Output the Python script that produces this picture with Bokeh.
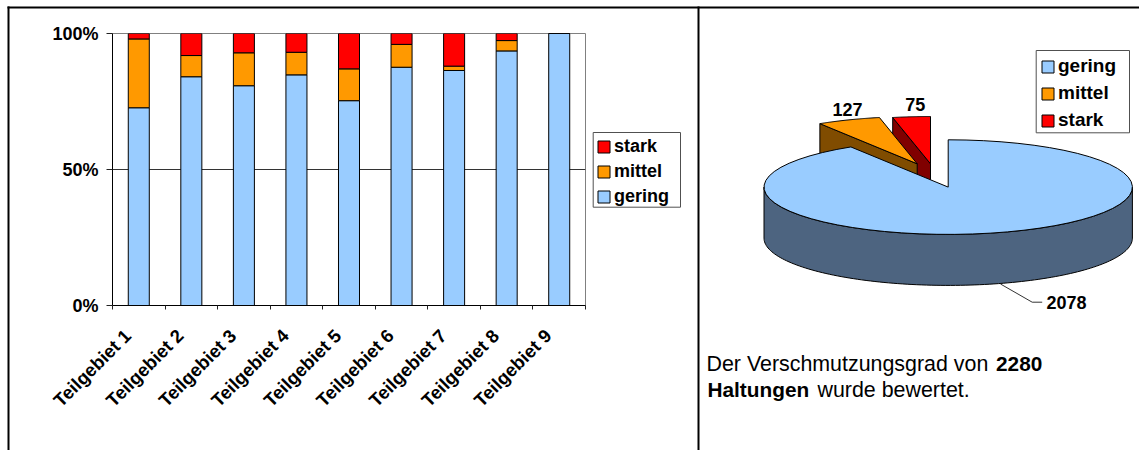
import numpy as np
from bokeh.plotting import figure
from bokeh.models import (Range1d, FixedTicker, LinearAxis, Legend, LegendItem, Label, ColumnDataSource, Grid)
from bokeh.embed import file_html
from bokeh.resources import INLINE

categories = ["Teilgebiet 1","Teilgebiet 2","Teilgebiet 3","Teilgebiet 4","Teilgebiet 5","Teilgebiet 6","Teilgebiet 7","Teilgebiet 8","Teilgebiet 9"]
gering = [72.7, 84.1, 80.8, 84.8, 75.3, 87.6, 86.4, 93.6, 100.0]
mittel = [25.3, 7.8, 12.1, 8.3, 11.7, 8.4, 1.6, 3.8, 0.0]
stark = [2.0, 8.1, 7.1, 6.9, 13.0, 4.0, 12.0, 2.6, 0.0]
y_ticks = [0, 50, 100]
y_labels = ["0%", "50%", "100%"]
pie_names = ["gering", "mittel", "stark"]
pie_values = [2078, 127, 75]

FONT = "Liberation Sans"
BLUE, ORANGE, RED = "#99CCFF", "#FF9900", "#FF0000"
D_BLUE, D_ORANGE, D_RED = "#4D6480", "#804C00", "#800000"
TXT = "#000000"
FS = "18px"

# ---------- full-page layer: frame lines, 3D pie, texts (1 data unit = 1 page pixel)
q = figure(width=1139, height=450, x_range=Range1d(0, 1139), y_range=Range1d(450, 0),
           output_backend="svg", toolbar_location=None, x_axis_type=None, y_axis_type=None,
           min_border=0, outline_line_color=None, background_fill_color="white", border_fill_color="white",
           styles={"position": "absolute", "left": "0px", "top": "0px"})
q.xgrid.visible = False
q.ygrid.visible = False
q.quad(left=[7, 697, 7], right=[9, 699, 1139], top=[6, 6, 6], bottom=[450, 450, 8], fill_color="black", line_color=None)

CX, CY, RX, RY, DEPTH = 947.7, 186.6, 184.2, 47.3, 51
total = sum(pie_values)
ends = np.cumsum(pie_values) / total * 2 * np.pi
starts = np.concatenate([[0], ends[:-1]])

def pt(a, ox=0, oy=0):
    return CX + ox + RX * np.sin(a), CY + oy - RY * np.cos(a)

def wedge(a0, a1, ox=0, oy=0):
    a = np.linspace(a0, a1, 60)
    x, y = pt(a, ox, oy)
    return [CX + ox, *x], [CY + oy, *y]

OFF = {"mittel": (-31.0, -23.3), "stark": (-17.7, -23.3)}
outline = dict(line_color="#000000", line_width=1)

def slice3d(i, off, top, dark):
    xc, yc = pt(starts[i], *off)
    ax, ay = CX + off[0], CY + off[1]
    q.patch([xc, ax, ax, xc], [yc, ay, ay + DEPTH, yc + DEPTH], fill_color=dark, **outline)
    wx, wy = wedge(starts[i], ends[i], *off)
    return q.patch(wx, wy, fill_color=top, **outline)

r_stark = slice3d(2, OFF["stark"], RED, D_RED)
r_mittel = slice3d(1, OFF["mittel"], ORANGE, D_ORANGE)
a = np.linspace(np.pi / 2, 3 * np.pi / 2, 120)
sx, sy = pt(a)
q.patch([*sx, *sx[::-1]], [*(sy + DEPTH), *sy[::-1]], fill_color=D_BLUE, **outline)
wx, wy = wedge(starts[0], ends[0])
r_gering = q.patch(wx, wy, fill_color=BLUE, **outline)

q.line([1000, 1031.7, 1041.7], [283.5, 301.7, 301.7], line_color="#333333", line_width=1)

lab = dict(text_font=FONT, text_font_size=FS, text_color=TXT, text_baseline="middle")
q.add_layout(Label(x=847, y=109, text=str(pie_values[1]), text_align="center", text_font_style="bold", **lab))
q.add_layout(Label(x=914.7, y=104, text=str(pie_values[2]), text_align="center", text_font_style="bold", **lab))
q.add_layout(Label(x=1046, y=302, text=str(pie_values[0]), text_font_style="bold", **lab))
lab_r = dict(lab, text_font_size="21.4px")
lab_b = dict(lab, text_font_size="20.8px", text_font_style="bold")
q.add_layout(Label(x=706, y=363, text="Der Verschmutzungsgrad von", **lab_r))
q.add_layout(Label(x=995.5, y=363, text="2280", **lab_b))
q.add_layout(Label(x=707, y=389, text="Haltungen", **lab_b))
q.add_layout(Label(x=817, y=389, text="wurde bewertet.", **lab_r))

# legend boxes
q.quad(left=[1035.7, 592.7], right=[1129, 680], top=[50, 132], bottom=[132.3, 206.7],
       fill_color="white", line_color="#505050", line_width=1)

def make_legend(items, loc, spacing, size, standoff):
    return Legend(items=[LegendItem(label=n, renderers=[r]) for n, r in items], location=loc,
                  orientation="vertical", margin=0, padding=0, spacing=spacing,
                  glyph_width=15, glyph_height=15, label_standoff=standoff, label_height=20,
                  label_text_font=FONT, label_text_font_style="bold", label_text_font_size=size,
                  label_text_color=TXT, border_line_color=None, background_fill_alpha=0)

q.add_layout(make_legend(list(zip(pie_names, [r_gering, r_mittel, r_stark])), (1040, 319), 5, "19px", 3), "center")
q.add_layout(make_legend(list(zip(pie_names[::-1], [r_stark, r_mittel, r_gering])), (596, 243), 4, FS, 3), "center")

# ---------- bar chart layer on top, transparent around its frame
x_pos = [i + 0.5 for i in range(len(categories))]
label_pos = [x - 0.21 for x in x_pos]  # the slanted labels end left of the bar centre
p = figure(width=697, height=450, x_range=Range1d(0, 9), y_range=Range1d(0, 100),
           output_backend="svg", toolbar_location=None, x_axis_type=None, y_axis_type=None,
           min_border_left=112, min_border_right=112, min_border_top=33, min_border_bottom=145,
           background_fill_color="white", border_fill_alpha=0,
           outline_line_color="#808080", outline_line_width=1,
           styles={"position": "absolute", "left": "0px", "top": "0px"})
src = ColumnDataSource(dict(x=x_pos, gering=gering, mittel=mittel, stark=stark))
rs = p.vbar_stack(["gering", "mittel", "stark"], x="x", width=0.4, source=src,
                  color=[BLUE, ORANGE, RED], line_color="#000000", line_width=1)
xax = LinearAxis(ticker=FixedTicker(ticks=label_pos, minor_ticks=list(range(10))),
                 major_label_overrides={x: c for x, c in zip(label_pos, categories)},
                 major_label_orientation=0.785, major_tick_out=0, major_tick_in=0,
                 minor_tick_out=4, minor_tick_in=0, minor_tick_line_color="#222222",
                 axis_line_color="#000000", major_label_standoff=23,
                 major_label_text_font=FONT, major_label_text_font_style="bold",
                 major_label_text_font_size="18.5px", major_label_text_color=TXT)
p.add_layout(xax, "below")
yax = LinearAxis(ticker=FixedTicker(ticks=y_ticks),
                 major_label_overrides={t: l for t, l in zip(y_ticks, y_labels)},
                 major_tick_out=6, major_tick_in=0, minor_tick_out=0, minor_tick_in=0,
                 axis_line_color="#000000", major_tick_line_color="#222222", major_label_standoff=8,
                 major_label_text_font=FONT, major_label_text_font_style="bold",
                 major_label_text_font_size=FS, major_label_text_color=TXT)
p.add_layout(yax, "left")
p.xgrid.visible = False
p.ygrid.visible = False
p.add_layout(Grid(dimension=1, ticker=FixedTicker(ticks=[50]), grid_line_color="#333333", grid_line_width=1))

open("out.html", "w").write(file_html((q, p), INLINE))
